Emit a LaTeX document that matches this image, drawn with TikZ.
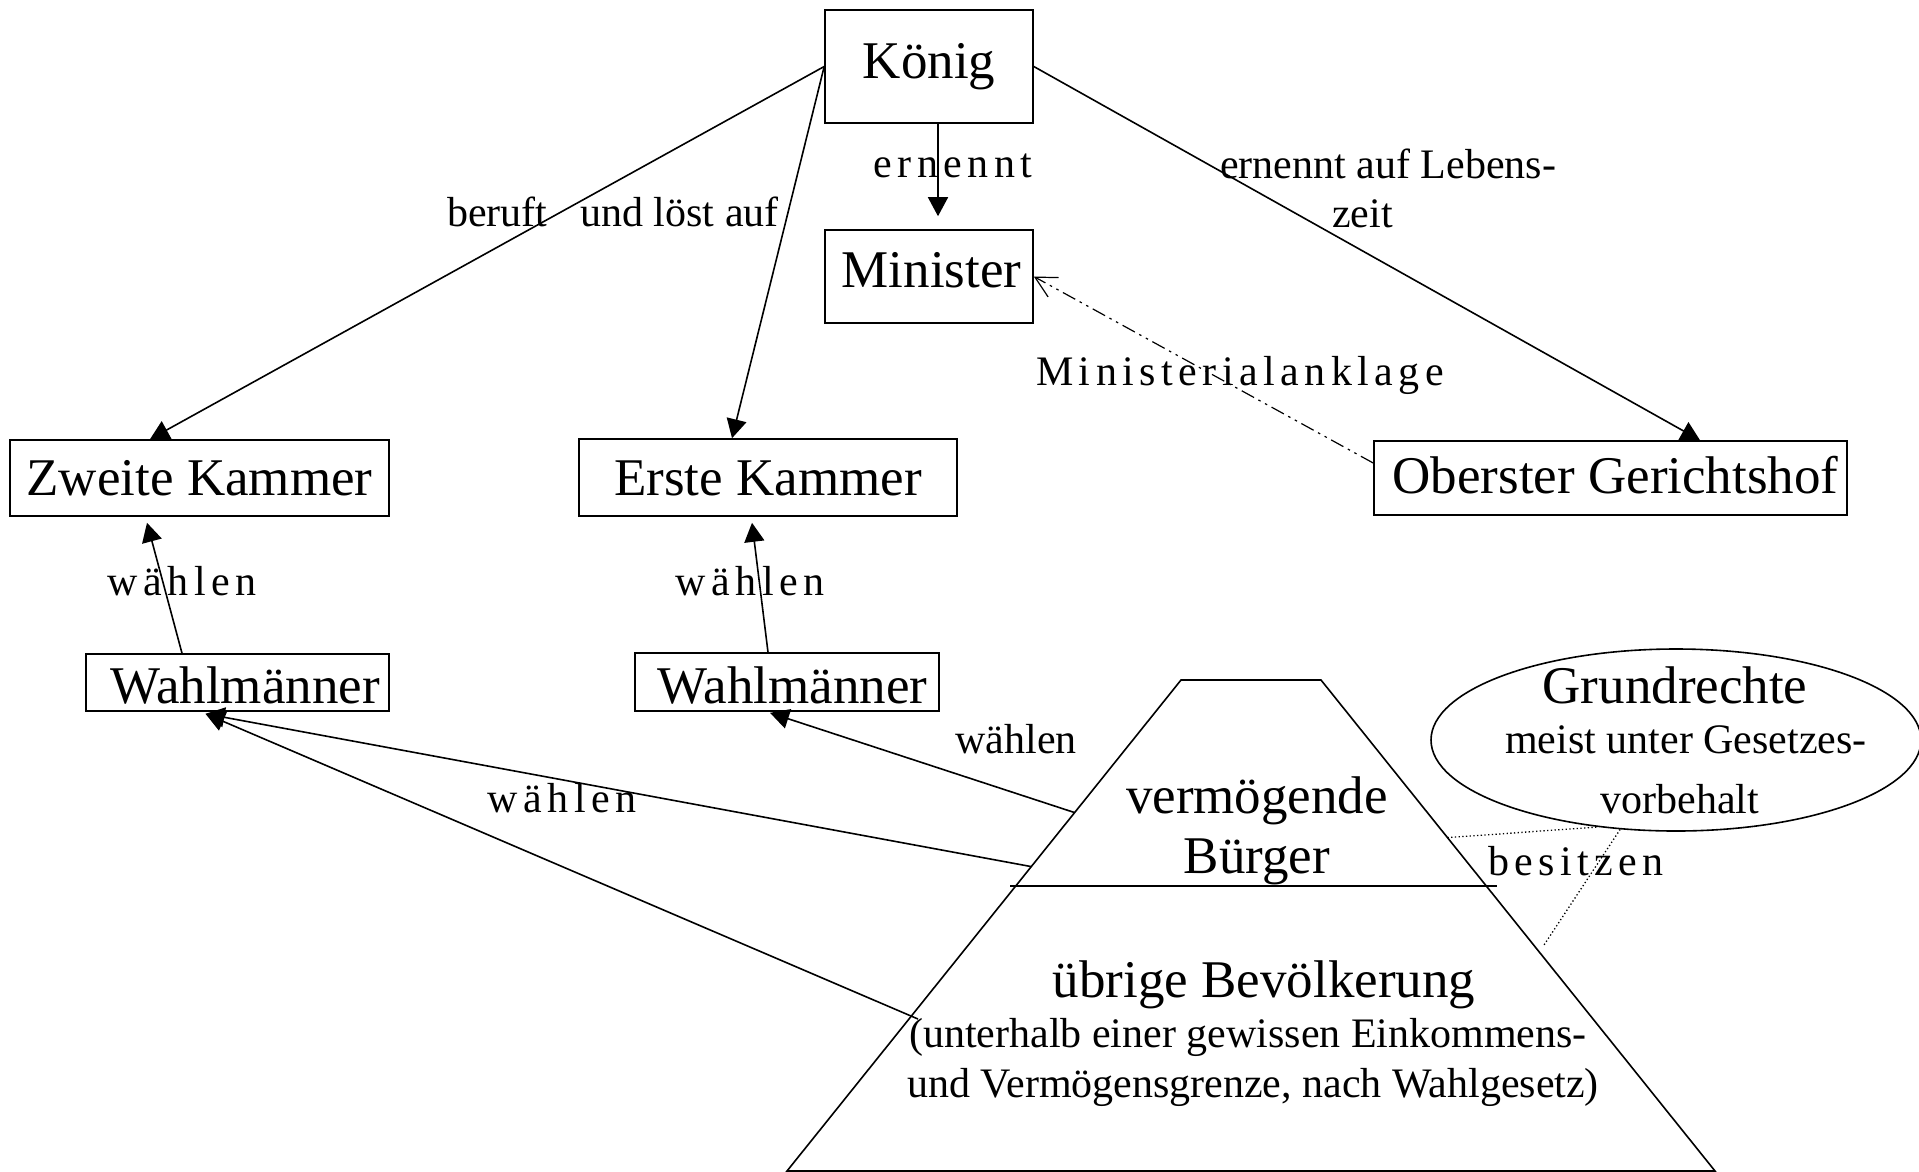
\documentclass[tikz,border=0pt]{standalone}
\usepackage{fontspec}
\setmainfont{Liberation Serif}
\newfontfamily\spacedfont[LetterSpace=13]{Liberation Serif}
\usetikzlibrary{arrows.meta,shapes.geometric,calc}
\begin{document}
\begin{tikzpicture}[x=1pt,y=-1pt,
  box/.style={draw, line width=1.6pt, inner sep=0pt, text depth=0pt, font=\fontsize{53}{60}\selectfont},
  big/.style={font=\fontsize{53}{60}\selectfont, inner sep=0pt, anchor=base},
  lbl/.style={font=\fontsize{42}{50}\selectfont, inner sep=0pt, anchor=base},
  slbl/.style={font=\spacedfont\fontsize{42}{50}\selectfont, inner sep=0pt, anchor=base},
  arr/.style={line width=1.6pt, -{Triangle[length=19pt,width=20pt]}},
  anklage/.style={line width=1.2pt, dash pattern=on 14pt off 5pt on 2.5pt off 5pt on 2.5pt off 5pt, -{Straight Barb[length=21pt,width=22pt]}},
  dotl/.style={line width=1.3pt, dash pattern=on 1.3pt off 2.4pt},
  outl/.style={line width=1.6pt}]
\useasboundingbox (0,0) rectangle (1919,1171);

% boxes
\node[box, minimum width=208pt, minimum height=113pt, text height=23pt] (kg) at (929,66.5) {König};
\node[box, minimum width=208pt, minimum height=93pt, text height=21pt] (mi) at (929,276.5) {\hspace{5pt}Minister};
\node[box, minimum width=379pt, minimum height=76pt, text height=34pt] (zk) at (199.5,478) {Zweite Kammer};
\node[box, minimum width=378pt, minimum height=77pt, text height=35pt] (ek) at (768,477.5) {Erste Kammer};
\node[box, minimum width=473pt, minimum height=74pt, text height=30pt] (og) at (1610.5,478) {\hspace{10pt}Oberster Gerichtshof};
\node[box, minimum width=303pt, minimum height=57pt, text height=41pt] (wl) at (237.5,682.5) {\hspace{15pt}Wahlmänner};
\node[box, minimum width=304pt, minimum height=58pt, text height=42pt] (wm) at (787,682) {\hspace{11pt}Wahlmänner};

% ellipse
\node[draw, ellipse, outl, minimum width=490pt, minimum height=182pt, inner sep=0pt] (gr) at (1676,740) {};
\node[big] (grt) at (1675,703) {Grundrechte};
\node[lbl] (grm) at (1686,753) {meist unter Gesetzes-};
\node[lbl] (grv) at (1680,813) {vorbehalt};

% trapezoid
\coordinate (tl) at (1181,680);
\coordinate (tr) at (1321,680);
\coordinate (br) at (1715,1171);
\coordinate (bl) at (787,1171);
\draw[outl] (tl) -- (tr) -- (br) -- (bl) -- cycle;
\coordinate (dl) at (1010,886);
\coordinate (dr) at (1497,886);
\draw[outl] (dl) -- (dr);
\node[big] (vb1) at (1257,813) {vermögende};
\node[big] (vb2) at (1257,873) {Bürger};
\node[big] (ub1) at (1264,997) {übrige Bevölkerung};
\node[lbl] (ub2) at (1248,1047) {(unterhalb einer gewissen Einkommens-};
\node[lbl] (ub3) at (1253,1097) {und Vermögensgrenze, nach Wahlgesetz)};

\coordinate (vA) at ($(tl)!0.27!(bl)$);
\coordinate (vB) at ($(tl)!0.38!(bl)$);
\coordinate (vC) at (918,1019);
\coordinate (pd1) at ($(tr)!0.321!(br)$);
\coordinate (pd2) at (1544,945);

% connectors
\draw[arr] (kg.west) -- ([xshift=-49.5pt]zk.north);
\draw[arr] (kg.west) -- ([xshift=-36pt]ek.north);
\draw[arr] (kg.east) -- ([xshift=89.5pt]og.north);
\draw[arr] ([xshift=9pt]kg.south) -- ([xshift=9pt,yshift=13pt]mi.north);
\draw[arr] ([xshift=-55.5pt]wl.north) -- ([xshift=-52.5pt,yshift=-6pt]zk.south);
\draw[arr] ([xshift=-19pt]wm.north) -- ([xshift=-16pt,yshift=-6pt]ek.south);
\draw[arr] (vA) -- ([xshift=-17pt,yshift=-1pt]wm.south);
\draw[arr] (vB) -- ([xshift=-32pt,yshift=-2pt]wl.south);
\draw[arr] (vC) -- ([xshift=-32pt,yshift=-2pt]wl.south);
\draw[anklage] ([yshift=15pt]og.west) -- (mi.east);
\draw[dotl] (pd1) -- (gr.228);
\draw[dotl] (gr.238) -- (pd2);

% labels
\node[slbl] (l1) at (953,177) {ernennt};
\node[lbl, anchor=base west] (l2) at (447,226) {beruft\hspace{33pt}und löst auf};
\node[lbl, anchor=base west] (l3) at (1220,178) {ernennt auf Lebens-};
\node[lbl, anchor=base west] (l3b) at (1332,227) {zeit};
\node[slbl] (l4) at (1240,385) {Ministerialanklage};
\node[slbl] (l5) at (182,595) {wählen};
\node[slbl] (l6) at (750,595) {wählen};
\node[lbl] (l7) at (1016,753) {wählen};
\node[slbl] (l8) at (562,812) {wählen};
\node[slbl] (l9) at (1576,875) {besitzen};
\end{tikzpicture}
\end{document}
